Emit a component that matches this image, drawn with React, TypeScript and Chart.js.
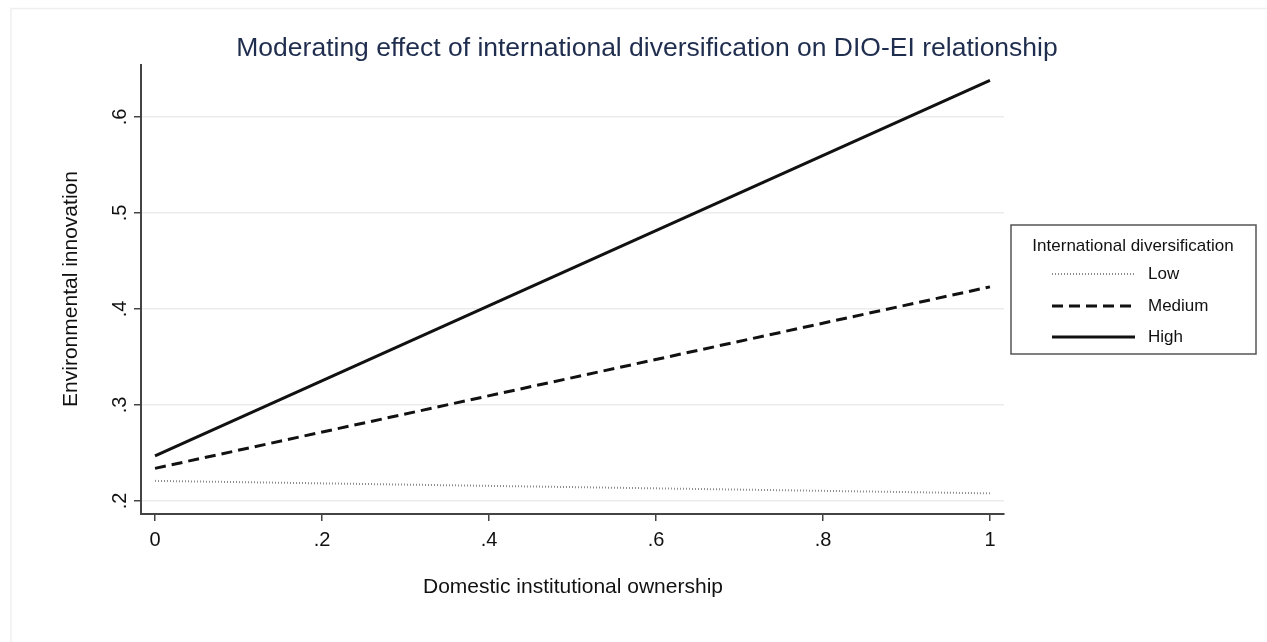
import React, { useEffect, useRef } from "react";
import { Chart, registerables } from "chart.js";

Chart.register(...registerables);

const xValues = [0, 1];
const lowValues = [0.221, 0.208];
const mediumValues = [0.234, 0.423];
const highValues = [0.247, 0.638];
const yTicks = [0.2, 0.3, 0.4, 0.5, 0.6];
const xTicks = [0, 0.2, 0.4, 0.6, 0.8, 1];
const seriesNames = ["Low", "Medium", "High"];
const legendTitle = "International diversification";
const chartTitle = "Moderating effect of international diversification on DIO-EI relationship";
const xTitle = "Domestic institutional ownership";
const yTitle = "Environmental innovation";

const FONT = "'Liberation Sans', Arial, Helvetica, sans-serif";

const fmt = (v: number) => {
  if (v === 0) return "0";
  if (v === 1) return "1";
  return String(Number(v.toFixed(1))).replace(/^0/, "");
};

export default function App() {
  const ref = useRef<HTMLCanvasElement | null>(null);

  useEffect(() => {
    if (!ref.current) return;
    const toPts = (vals: number[]) => xValues.map((x, i) => ({ x, y: vals[i] }));

    const overlay = {
      id: "overlay",
      beforeDraw(chart: any) {
        const ctx = chart.ctx;
        ctx.save();
        ctx.fillStyle = "#ffffff";
        ctx.fillRect(0, 0, chart.width, chart.height);
        ctx.strokeStyle = "#efefef";
        ctx.lineWidth = 1.5;
        ctx.beginPath();
        ctx.moveTo(11, 642);
        ctx.lineTo(11, 8.5);
        ctx.lineTo(1267, 8.5);
        ctx.stroke();
        ctx.restore();
      },
      afterDraw(chart: any) {
        const ctx = chart.ctx;
        const xs = chart.scales.x;
        const ys = chart.scales.y;
        ctx.save();
        // title
        ctx.fillStyle = "#1f2d4e";
        ctx.font = `26.5px ${FONT}`;
        ctx.textAlign = "center";
        ctx.textBaseline = "middle";
        ctx.fillText(chartTitle, 647, 49);
        // y tick labels rotated
        ctx.fillStyle = "#111";
        ctx.font = `20px ${FONT}`;
        yTicks.forEach((v) => {
          const py = ys.getPixelForValue(v);
          ctx.save();
          ctx.translate(120, py);
          ctx.rotate(-Math.PI / 2);
          ctx.textAlign = "center";
          ctx.textBaseline = "middle";
          ctx.fillText(fmt(v), 0, 0);
          ctx.restore();
        });
        // x tick labels
        ctx.textAlign = "center";
        ctx.textBaseline = "middle";
        xTicks.forEach((v) => {
          ctx.fillText(fmt(v), xs.getPixelForValue(v), 540);
        });
        // axis titles
        ctx.font = `21px ${FONT}`;
        ctx.fillText(xTitle, 573, 587);
        ctx.save();
        ctx.translate(71, 289);
        ctx.rotate(-Math.PI / 2);
        ctx.fillText(yTitle, 0, 0);
        ctx.restore();
        // legend
        ctx.strokeStyle = "#555";
        ctx.lineWidth = 1.5;
        ctx.strokeRect(1011, 225, 245, 129);
        ctx.font = `17px ${FONT}`;
        ctx.fillStyle = "#111";
        ctx.fillText(legendTitle, 1133, 246);
        const rowsY = [274, 306, 337];
        chart.data.datasets.forEach((ds: any, i: number) => {
          const y = rowsY[i];
          ctx.save();
          ctx.strokeStyle = ds.borderColor;
          ctx.lineWidth = ds.borderWidth;
          ctx.setLineDash(ds.borderDash || []);
          ctx.beginPath();
          ctx.moveTo(1052, y);
          ctx.lineTo(1135, y);
          ctx.stroke();
          ctx.restore();
          ctx.textAlign = "left";
          ctx.fillStyle = "#111";
          ctx.fillText(ds.label, 1148, y);
        });
        ctx.restore();
      },
    };

    const chart = new Chart(ref.current, {
      type: "line",
      data: {
        datasets: [
          {
            label: seriesNames[0],
            data: toPts(lowValues),
            borderColor: "#8a8a8a",
            borderWidth: 2,
            borderDash: [1, 2],
            pointRadius: 0,
            fill: false,
          },
          {
            label: seriesNames[1],
            data: toPts(mediumValues),
            borderColor: "#111111",
            borderWidth: 3,
            borderDash: [11, 6],
            pointRadius: 0,
            fill: false,
          },
          {
            label: seriesNames[2],
            data: toPts(highValues),
            borderColor: "#111111",
            borderWidth: 3,
            pointRadius: 0,
            fill: false,
          },
        ],
      },
      plugins: [overlay],
      options: {
        responsive: false,
        animation: false,
        layout: { padding: { left: 0, top: 65, right: 263, bottom: 108 } },
        plugins: {
          legend: { display: false },
          title: { display: false },
          tooltip: { enabled: false },
        },
        scales: {
          x: {
            type: "linear",
            min: -0.0168,
            max: 1.0168,
            afterBuildTicks: (s: any) => {
              s.ticks = xTicks.map((v) => ({ value: v }));
            },
            afterFit: (s: any) => {
              s.height = 20;
            },
            ticks: { display: false },
            grid: {
              color: "rgba(0,0,0,0)",
              tickColor: "#444",
              tickLength: 7,
              lineWidth: 1.5,
            },
            border: { color: "#444", width: 2 },
          },
          y: {
            type: "linear",
            min: 0.1865,
            max: 0.654,
            afterBuildTicks: (s: any) => {
              s.ticks = yTicks.map((v) => ({ value: v }));
            },
            afterFit: (s: any) => {
              s.width = 141;
            },
            ticks: { display: false },
            grid: {
              color: "#ececec",
              tickColor: "#444",
              tickLength: 7,
              lineWidth: 1.5,
            },
            border: { color: "#444", width: 2 },
          },
        },
      },
    } as any);
    return () => chart.destroy();
  }, []);

  return (
    <div style={{ position: "fixed", left: 0, top: 0, width: 1267, height: 642 }}>
      <canvas ref={ref} width={1267} height={642} style={{ display: "block" }} />
    </div>
  );
}
